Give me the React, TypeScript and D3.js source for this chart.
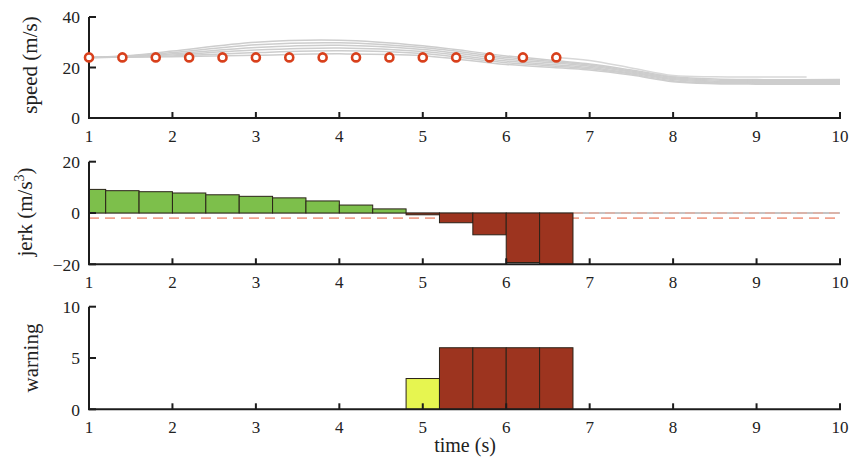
import React from 'react';
import * as d3 from 'd3';

const W = 861;
const H = 459;

const timeTicks = [1, 2, 3, 4, 5, 6, 7, 8, 9, 10];
const speedTicks = [0, 20, 40];
const jerkTicks = [-20, 0, 20];
const warningTicks = [0, 5, 10];

const sampleTimes = [1, 1.4, 1.8, 2.2, 2.6, 3, 3.4, 3.8, 4.2, 4.6, 5, 5.4, 5.8, 6.2, 6.6];
const sampleSpeeds = [24, 24, 24, 24, 24, 24, 24, 24, 24, 24, 24, 24, 24, 24, 24];

const predTimes = [1, 1.5, 2, 3, 4, 5, 6, 7, 7.5, 8, 8.5, 9, 10];
const predA = [24, 24.8, 26.5, 30.0, 30.8, 28.6, 24.6, 21.4, 19.0, 16.4, 15.4, 15.2, 15.2];
const predB = [24, 24.6, 25.9, 29.0, 29.8, 27.9, 24.0, 21.0, 18.6, 16.0, 15.0, 14.8, 14.8];
const predC = [24, 24.4, 25.4, 27.9, 28.8, 27.1, 23.3, 20.5, 18.2, 15.6, 14.6, 14.4, 14.4];
const predD = [24, 24.3, 25.0, 26.9, 27.7, 26.3, 22.6, 20.0, 17.8, 15.2, 14.2, 14.0, 14.0];
const predE = [24, 24.2, 24.6, 25.9, 26.6, 25.5, 21.9, 19.5, 17.4, 14.8, 13.9, 13.7, 13.7];
const predF = [24, 24.1, 24.3, 24.9, 25.4, 24.7, 21.2, 19.0, 17.0, 14.4, 13.6, 13.4, 13.4];
const lastPredTimes = [6.6, 7, 7.5, 8, 8.5, 9, 9.6];
const lastPredSpeeds = [24, 22.8, 19.8, 16.8, 16.3, 16.2, 16.2];

const jerkValues = [9.2, 8.7, 8.3, 7.8, 7.1, 6.5, 5.9, 4.7, 3.1, 1.6, -0.7, -3.8, -8.5, -19.3, -20];
const jerkThreshold = -2;

const warningTimes = [5.0, 5.4, 5.8, 6.2, 6.6];
const warningValues = [3, 6, 6, 6, 6];

const BAR_W = 0.4;
const GREEN = '#7dbf4b';
const RED = '#9d341f';
const YELLOW = '#e6f550';
const CIRCLE = '#d8401c';
const SALMON = '#f0a28e';
const AXIS = '#1c1c1c';
const FONT = '"Liberation Serif", "Times New Roman", serif';

const x = d3.scaleLinear().domain([1, 10]).range([89, 840]);
const ySpeed = d3.scaleLinear().domain([0, 40]).range([118, 17]);
const yJerk = d3.scaleLinear().domain([-20, 20]).range([264.3, 161.7]);
const yWarn = d3.scaleLinear().domain([0, 10]).range([409.3, 306.7]);

function Axes({ y, yTicks }: { y: d3.ScaleLinear<number, number>; yTicks: number[] }) {
  const [y0, y1] = y.range();
  const [x0, x1] = x.range();
  const f = (v: number) => (v < 0 ? '\u2212' + Math.abs(v) : String(v));
  return (
    <g>
      <line x1={x0} x2={x0} y1={y1} y2={y0} stroke={AXIS} strokeWidth={2} />
      <line x1={x0 - 1} x2={x1 + 1} y1={y0} y2={y0} stroke={AXIS} strokeWidth={2} />
      {yTicks.map((t) => (
        <g key={'y' + t}>
          <line x1={x0} x2={x0 + 7} y1={y(t)} y2={y(t)} stroke={AXIS} strokeWidth={2} />
          <text x={x0 - 9} y={y(t)} dy="0.36em" textAnchor="end" fontFamily={FONT} fontSize={17.5} fill="#222">
            {f(t)}
          </text>
        </g>
      ))}
      {timeTicks.map((t) => (
        <g key={'x' + t}>
          <line x1={x(t)} x2={x(t)} y1={y0} y2={y0 - 6} stroke={AXIS} strokeWidth={2} />
          <text x={x(t)} y={y0 + 18} dy="0.36em" textAnchor="middle" fontFamily={FONT} fontSize={17} fill="#222">
            {t}
          </text>
        </g>
      ))}
    </g>
  );
}

export default function App() {
  const line = d3
    .line<[number, number]>()
    .x((d) => x(d[0]))
    .y((d) => ySpeed(d[1]))
    .curve(d3.curveCatmullRom.alpha(0.5));
  const preds = [predA, predB, predC, predD, predE, predF];

  const barX0 = (t: number) => x(Math.max(t - BAR_W / 2, 1));
  const barX1 = (t: number) => x(t + BAR_W / 2);

  return (
    <svg width={W} height={H} style={{ position: 'absolute', left: 0, top: 0, background: '#fff' }}>
      {/* Top panel: speed */}
      {preds.map((p, i) => (
        <path
          key={i}
          d={line(predTimes.map((t, j) => [t, p[j]]) as [number, number][]) || ''}
          fill="none"
          stroke="#cdcdcd"
          strokeWidth={1.5}
        />
      ))}
      <path
        d={line(lastPredTimes.map((t, j) => [t, lastPredSpeeds[j]]) as [number, number][]) || ''}
        fill="none"
        stroke="#d8d8d8"
        strokeWidth={1.5}
      />
      <Axes y={ySpeed} yTicks={speedTicks} />
      {sampleTimes.map((t, i) => (
        <circle key={i} cx={x(t)} cy={ySpeed(sampleSpeeds[i])} r={4} fill="#fff" stroke={CIRCLE} strokeWidth={2.6} />
      ))}
      <text transform={`translate(37,65) rotate(-90)`} textAnchor="middle" fontFamily={FONT} fontSize={21} fill="#222">
        speed (m/s)
      </text>

      {/* Middle panel: jerk */}
      <line x1={x(1)} x2={x(10)} y1={yJerk(jerkThreshold)} y2={yJerk(jerkThreshold)} stroke={SALMON} strokeWidth={1.8} strokeDasharray="10,6" />
      <line x1={x(1)} x2={x(10)} y1={yJerk(0)} y2={yJerk(0)} stroke="#8a8a8a" strokeWidth={1.2} />
      <line x1={x(6.8)} x2={x(10)} y1={yJerk(0)} y2={yJerk(0)} stroke={SALMON} strokeWidth={1.2} strokeDasharray="10,6" />
      {sampleTimes.map((t, i) => {
        const v = jerkValues[i];
        const yTop = yJerk(Math.max(v, 0));
        const yBot = yJerk(Math.min(v, 0));
        return (
          <rect
            key={i}
            x={barX0(t)}
            y={yTop}
            width={barX1(t) - barX0(t)}
            height={yBot - yTop}
            fill={v >= 0 ? GREEN : RED}
            stroke="#2a2218"
            strokeWidth={1}
          />
        );
      })}
      <Axes y={yJerk} yTicks={jerkTicks} />
      <text transform={`translate(32,212) rotate(-90)`} textAnchor="middle" fontFamily={FONT} fontSize={21} fill="#222">
        jerk (m/s
        <tspan dy="-8" fontSize={14}>3</tspan>
        <tspan dy="8">)</tspan>
      </text>

      {/* Bottom panel: warning */}
      {warningTimes.map((t, i) => {
        const v = warningValues[i];
        return (
          <rect
            key={i}
            x={barX0(t)}
            y={yWarn(v)}
            width={barX1(t) - barX0(t)}
            height={yWarn(0) - yWarn(v)}
            fill={v < 5 ? YELLOW : RED}
            stroke="#2a2218"
            strokeWidth={1}
          />
        );
      })}
      <Axes y={yWarn} yTicks={warningTicks} />
      <text transform={`translate(38,358) rotate(-90)`} textAnchor="middle" fontFamily={FONT} fontSize={21} fill="#222">
        warning
      </text>
      <text x={465} y={452} textAnchor="middle" fontFamily={FONT} fontSize={20} fill="#222">
        time (s)
      </text>
    </svg>
  );
}
